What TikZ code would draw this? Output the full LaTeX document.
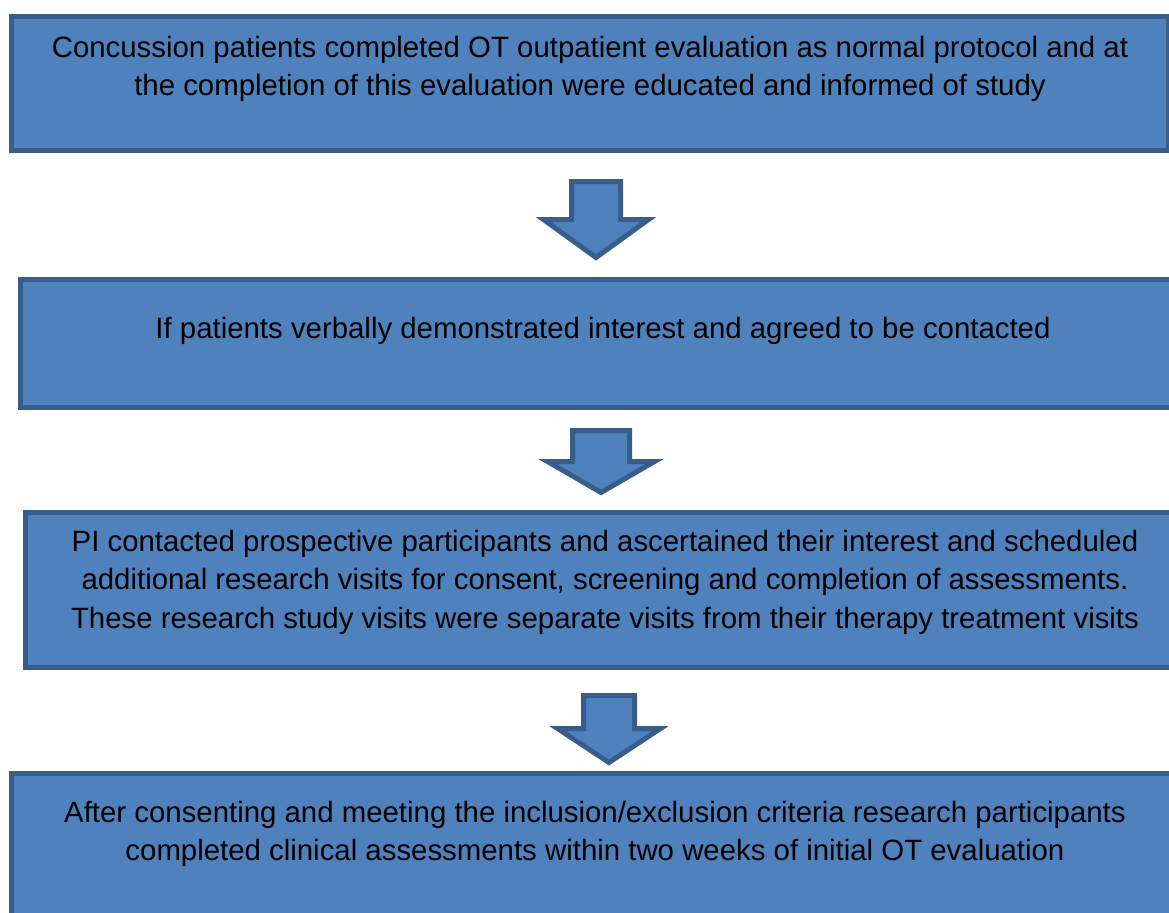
\documentclass[tikz,border=0pt]{standalone}
\usepackage{fontspec}
\setmainfont{Liberation Sans}
\usepackage{tikz}
\usetikzlibrary{positioning,calc}

\definecolor{boxfill}{HTML}{4F81BD}
\definecolor{boxline}{HTML}{385D8A}

% block arrow pointing down: top centre x, top y, half shaft, half head, shaft length, head length
\newcommand{\blockarrow}[7]{%
	\coordinate (#1) at (#2,#3);
	\draw[downarrow] (#1) ++(-#4,0) -- ++(2*#4,0) -- ++(0,-#6) -- ++(#5-#4,0)
		-- ($(#1)+(0,-#6-#7)$) -- ($(#1)+(-#5,-#6)$) -- ++(#5-#4,0) -- cycle;}

\begin{document}
\begin{tikzpicture}[
  bluebox/.style={rectangle,draw=boxline,fill=boxfill,line width=5pt*0.711,inner sep=0pt},
  boxtext/.style={align=center,inner sep=0pt,anchor=north,font=\fontsize{20.9}{27.5}\selectfont},
  downarrow/.style={draw=boxline,fill=boxfill,line width=5pt*0.711},
  node distance=0.5cm]
		\clip (0,0) rectangle (29.225,-22.825);
		\fill[white] (0,0) rectangle (29.225,-22.825);
		% the four steps
		\node[bluebox,minimum width=28.925cm,minimum height=3.35cm] (b1) at (14.75,-2.0875) {};
		\node[bluebox,minimum width=29.125cm,minimum height=3.2cm] (b2) at (15.075,-8.5875) {};
		\node[bluebox,minimum width=28.975cm,minimum height=3.875cm] (b3) at (15.125,-14.75) {};
		\node[bluebox,minimum width=29.175cm,minimum height=3.85cm] (b4) at (14.875,-21.2625) {};
		\node[boxtext] (t1) [below=0.5375cm of b1.north]
			{Concussion patients completed OT outpatient evaluation as normal protocol and at\\
			 the completion of this evaluation were educated and informed of study};
		\node[boxtext] (t2) [below=0.9875cm of b2.north]
			{If patients verbally demonstrated interest and agreed to be contacted};
		\node[boxtext] (t3) [below=0.4875cm of b3.north]
			{PI contacted prospective participants and ascertained their interest and scheduled\\
			 additional research visits for consent, screening and completion of assessments.\\
			 These research study visits were separate visits from their therapy treatment visits};
		\node[boxtext] (t4) [below=0.7375cm of b4.north]
			{After consenting and meeting the inclusion/exclusion criteria research participants\\
			 completed clinical assessments within two weeks of initial OT evaluation};
		% block arrows between steps
		\blockarrow{a1}{14.9}{-4.5375}{0.6125}{1.3125}{0.95}{0.95}
		\blockarrow{a2}{15.025}{-10.7625}{0.7125}{1.3375}{0.775}{0.775}
		\blockarrow{a3}{15.225}{-17.3875}{0.6375}{1.2875}{0.825}{0.85}
	\end{tikzpicture}
\end{document}
